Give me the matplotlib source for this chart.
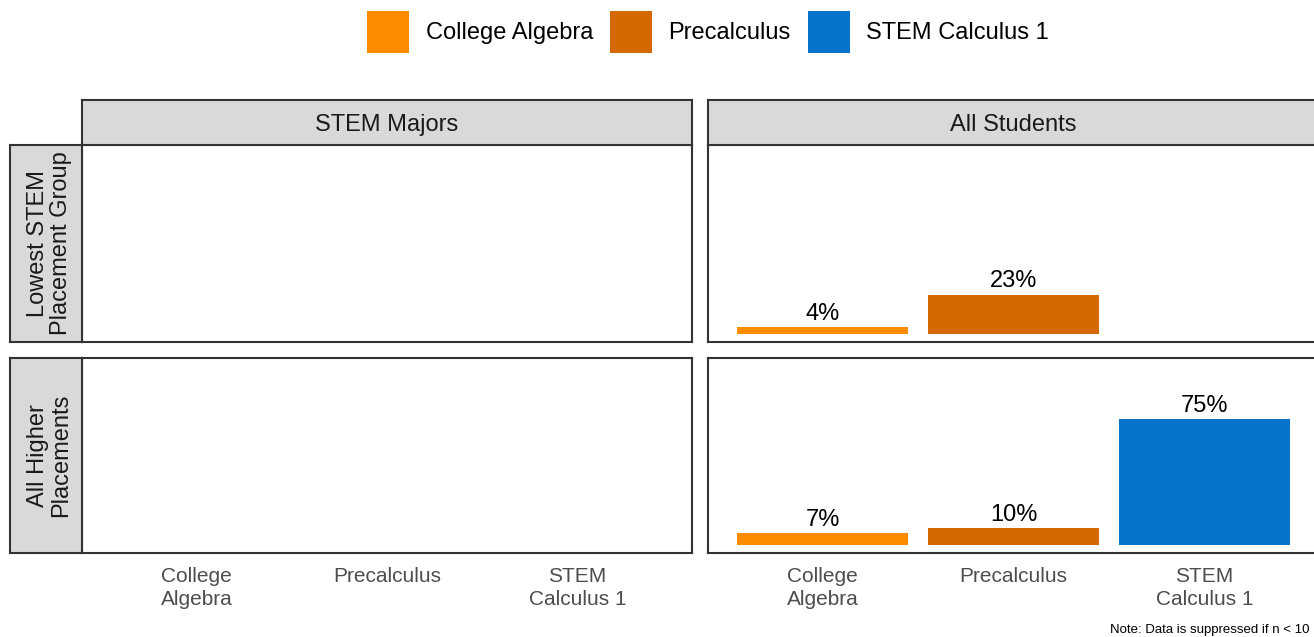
import numpy as np
import matplotlib
matplotlib.use("Agg")
import matplotlib.pyplot as plt
from matplotlib.patches import Patch

plt.rcParams['font.family'] = ['Liberation Sans', 'DejaVu Sans']

# data (percent of students)
courses = ['College Algebra', 'Precalculus', 'STEM Calculus 1']
tick_labels = ['College\nAlgebra', 'Precalculus', 'STEM\nCalculus 1']
col_groups = ['STEM Majors', 'All Students']
row_groups = ['Lowest STEM\nPlacement Group', 'All Higher\nPlacements']
colors = ['#FF8C00', '#D36900', '#0774CB']

# None = suppressed (n < 10)
stem_lowest = [None, None, None]
stem_higher = [None, None, None]
all_lowest = [4, 23, None]
all_higher = [7, 10, 75]

values = {
    (0, 0): stem_lowest, (0, 1): all_lowest,
    (1, 0): stem_higher, (1, 1): all_higher,
}

W, H = 1314, 637
fig = plt.figure(figsize=(W / 100, H / 100), dpi=100)

def px_axes(x0, y0, x1, y1):
    return fig.add_axes([x0 / W, 1 - y1 / H, (x1 - x0) / W, (y1 - y0) / H])

EDGE = '#333333'
STRIP = '#D9D9D9'
col_x = [(82, 692), (708, 1319)]
row_y = [(145, 342), (358, 553)]

def style_box(ax, face='white'):
    ax.set_facecolor(face)
    for s in ax.spines.values():
        s.set_color(EDGE)
        s.set_linewidth(1.5)

x = np.arange(1, 4)
for r, (y0, y1) in enumerate(row_y):
    for c, (x0, x1) in enumerate(col_x):
        ax = px_axes(x0, y0, x1, y1)
        style_box(ax)
        vals = values[(r, c)]
        for i, v in enumerate(vals):
            if v is None:
                continue
            ax.bar(x[i], v, width=0.9, color=colors[i])
            ax.annotate(f'{v}%', (x[i], v), xytext=(0, 9.5), textcoords='offset points',
                        ha='center', va='center', fontsize=17, color='black')
        ax.set_xlim(0.4, 3.6)
        ax.set_ylim(-5, 111.5)
        ax.set_yticks([])
        ax.set_xticks(x)
        if r == 1:
            ax.set_xticklabels(tick_labels, fontsize=15, color='#4D4D4D', linespacing=1.25)
            ax.tick_params(axis='x', length=0, pad=10)
        else:
            ax.set_xticklabels([])
            ax.tick_params(axis='x', length=0)

# column strips
for c, (x0, x1) in enumerate(col_x):
    sax = px_axes(x0, 100, x1, 145)
    style_box(sax, STRIP)
    sax.set_xticks([])
    sax.set_yticks([])
    sax.text((692 - 82) / 2 / (x1 - x0), 0.45, col_groups[c], transform=sax.transAxes,
             ha='center', va='center', fontsize=17, color='#1A1A1A')

# row strips
for r, (y0, y1) in enumerate(row_y):
    sax = px_axes(10, y0, 82, y1)
    style_box(sax, STRIP)
    sax.set_xticks([])
    sax.set_yticks([])
    sax.text(0.55, 0.5, row_groups[r], transform=sax.transAxes, rotation=90,
             ha='center', va='center', fontsize=17, color='#1A1A1A', linespacing=1.1)

handles = [Patch(facecolor=col, edgecolor='none', label=name) for name, col in zip(courses, colors)]
fig.legend(handles=handles, loc='center', bbox_to_anchor=(708 / W, 1 - 32 / H), ncol=3,
           frameon=False, fontsize=17, handlelength=1.8, handleheight=2.3,
           handletextpad=0.68, columnspacing=0.72, borderpad=0)

fig.text(1310 / W, 1 - 630 / H, 'Note: Data is suppressed if n < 10', ha='right', va='center',
         fontsize=9.5, color='black')

fig.savefig('out.png', dpi=100)
